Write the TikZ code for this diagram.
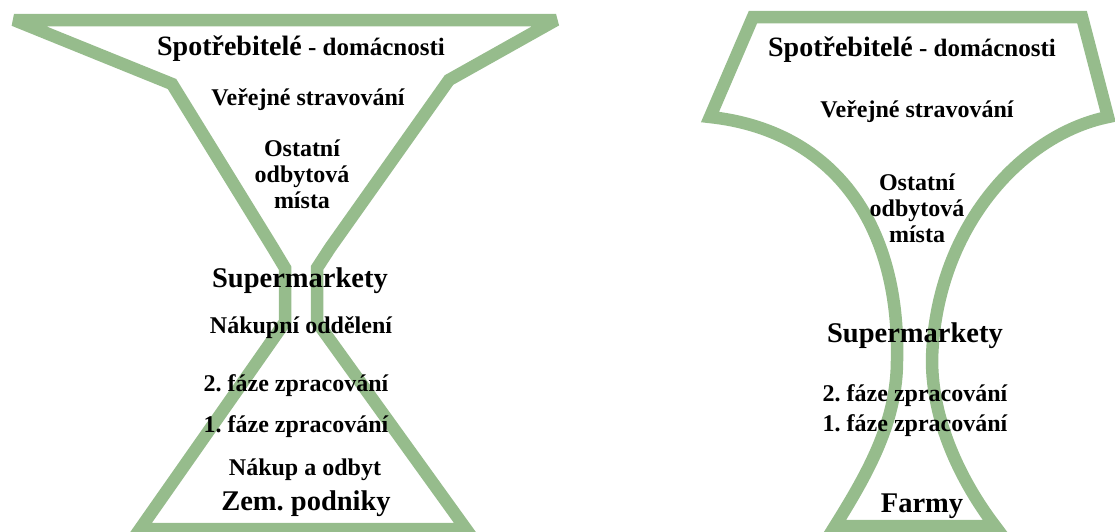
\documentclass[tikz,border=0pt]{standalone}
\usepackage{fontspec}
\setmainfont{Liberation Serif}
\definecolor{sage}{RGB}{150,188,140}
\frenchspacing
\begin{document}
\begin{tikzpicture}[x=1pt,y=-1pt,
  outline/.style={draw=sage, line width=12.5pt, miter limit=3},
  lbl/.style={inner sep=0pt, anchor=base, align=center,
    font=\fontsize{24}{26}\selectfont\bfseries},
  big/.style={lbl, font=\fontsize{28.5}{30}\selectfont\bfseries},
  head/.style={lbl, font=\fontsize{25}{27}\selectfont\bfseries}]
\useasboundingbox (0,0) rectangle (1115,531);

% hourglass of the food chain (left)
\draw[outline] (14,20) -- (556,20) -- (449,80) -- (330,248) -- (317,268)
  -- (317,322) -- (466,529) -- (140,529) -- (285,322) -- (285,268)
  -- (273,248) -- (172,84) -- cycle;

% cup with curved waist (right)
\draw[outline] (753,17) -- (1082,17) -- (1108,117)
  .. controls (1020,135) and (935,230) .. (932,360)
  .. controls (932,420) and (960,480) .. (995,526)
  -- (835,526)
  .. controls (870,470) and (897,420) .. (897,360)
  .. controls (900,220) and (830,130) .. (710,117)
  -- cycle;

% labels, left
\node[head] (spotL) at (301,55) {{\fontsize{28}{30}\selectfont Spotřebitelé} - domácnosti};
\node[lbl] (verL) at (308,105) {Veřejné stravování};
\node[lbl] (ostL) at (302,208) {Ostatní\\odbytová\\místa};
\node[big] (superL) at (300,287) {Supermarkety};
\node[lbl] (nakL) at (301,333) {Nákupní oddělení};
\node[lbl] (faze2L) at (296,391) {2. fáze zpracování};
\node[lbl] (faze1L) at (296,432) {1. fáze zpracování};
\node[lbl] (odbL) at (305,475) {Nákup a odbyt};
\node[big] (zemL) at (306,510) {Zem. podniky};

% labels, right
\node[head] (spotR) at (912,56) {{\fontsize{28}{30}\selectfont Spotřebitelé} - domácnosti};
\node[lbl] (verR) at (917,117) {Veřejné stravování};
\node[lbl] (ostR) at (917,242) {Ostatní\\odbytová\\místa};
\node[big] (superR) at (915,342) {Supermarkety};
\node[lbl] (faze2R) at (915,401) {2. fáze zpracování};
\node[lbl] (faze1R) at (915,431) {1. fáze zpracování};
\node[big] (farmyR) at (922,512) {Farmy};
\end{tikzpicture}
\end{document}
